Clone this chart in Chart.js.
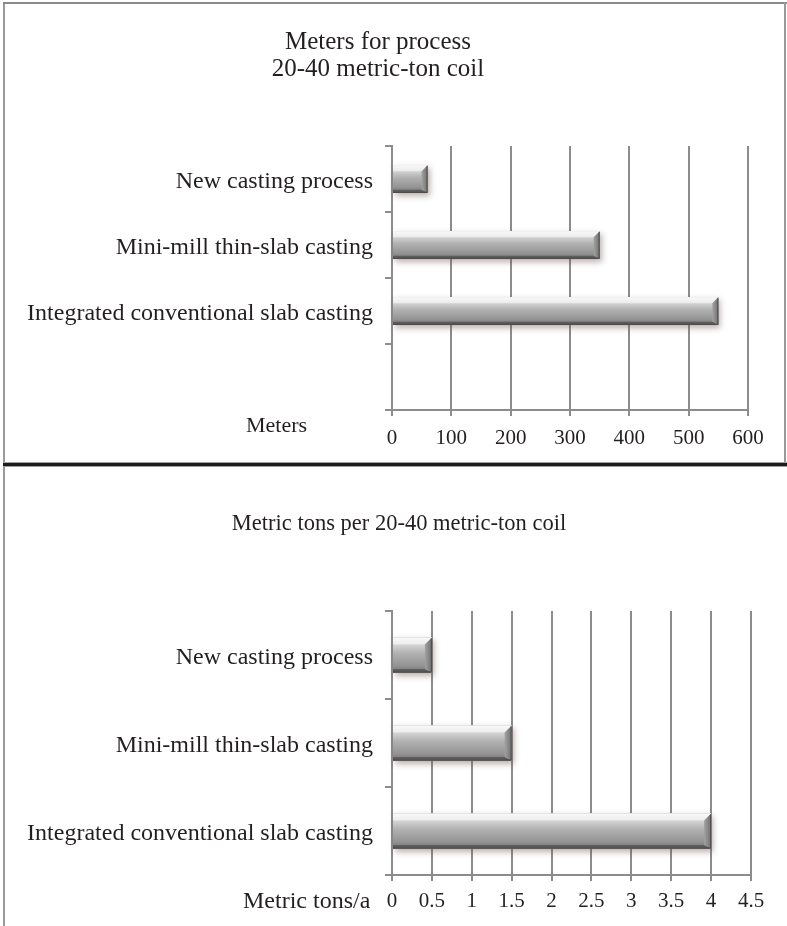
<!DOCTYPE html>
<html>
<head>
<meta charset="utf-8">
<title>Casting process comparison</title>
<script src="https://cdn.jsdelivr.net/npm/chart.js@4/dist/chart.umd.min.js"></script>
<style>
  html, body { margin: 0; padding: 0; background: #fff; }
  #page { position: relative; width: 787px; height: 926px; overflow: hidden; background: #fff; }
  canvas { position: absolute; left: 0; }
  #meters { top: 0; }
  #tons { top: 467px; }
  .rule { position: absolute; }
  #frameLeft { left: 3px; top: 2px; width: 2px; height: 924px; background: #9a9a9a; }
  #frameTop { left: 3px; top: 2px; width: 784px; height: 2px; background: #8a8a8a; }
  #frameRight { left: 784px; top: 2px; width: 2px; height: 461px; background: #9a9a9a; }
  #divider { left: 3px; top: 462px; width: 784px; height: 5px;
             background: linear-gradient(#a0a0a0 0 1px, #1c1c1c 1px 4px, #a0a0a0 4px 5px); }
</style>
</head>
<body>
<div id="page">
  <canvas id="meters" width="787" height="462"></canvas>
  <canvas id="tons" width="787" height="459"></canvas>
  <div class="rule" id="frameLeft"></div>
  <div class="rule" id="frameTop"></div>
  <div class="rule" id="frameRight"></div>
  <div class="rule" id="divider"></div>
</div>
<script>
// Length of plant needed per process (meters); last slot is left empty on purpose
const meterCategories = ['New casting process', 'Mini-mill thin-slab casting', 'Integrated conventional slab casting', ''];
const meterValues = [60, 350, 550, null];
const meterTitle = ['Meters for process', '20-40 metric-ton coil'];
const meterAxisName = 'Meters';
const meterMax = 600;
const meterStep = 100;

// Tonnage per coil for each process
const tonCategories = ['New casting process', 'Mini-mill thin-slab casting', 'Integrated conventional slab casting'];
const tonValues = [0.5, 1.5, 4];
const tonTitle = ['Metric tons per 20-40 metric-ton coil'];
const tonAxisName = 'Metric tons/a';
const tonMax = 4.5;
const tonStep = 0.5;

const FONT = "'Liberation Serif', 'Times New Roman', serif";
const INK = '#231f20';
const RULE = '#8c8c8c';

function poly(ctx, pts, fill) {
  ctx.beginPath();
  ctx.moveTo(pts[0][0], pts[0][1]);
  for (let i = 1; i < pts.length; i++) ctx.lineTo(pts[i][0], pts[i][1]);
  ctx.closePath();
  ctx.fillStyle = fill;
  ctx.fill();
}

function barBox(bar) {
  const p = bar.getProps(['x', 'y', 'base', 'height'], true);
  return {
    l: Math.min(p.base, p.x), r: Math.max(p.base, p.x),
    t: p.y - p.height / 2, b: p.y + p.height / 2
  };
}

// Soft drop shadow under each bar and a bevelled, shaded face on top of it
const bevelBars = {
  id: 'bevelBars',
  beforeDatasetsDraw(chart) {
    const ctx = chart.ctx;
    const values = chart.data.datasets[0].data;
    chart.getDatasetMeta(0).data.forEach((bar, i) => {
      if (values[i] == null) return;
      const r = barBox(bar);
      ctx.save();
      ctx.shadowColor = 'rgba(110,80,80,0.45)';
      ctx.shadowBlur = 6;
      ctx.shadowOffsetX = 2;
      ctx.shadowOffsetY = 3;
      ctx.fillStyle = '#9a9a9a';
      ctx.fillRect(r.l, r.t, r.r - r.l, r.b - r.t);
      ctx.restore();
    });
  },
  afterDatasetsDraw(chart) {
    const ctx = chart.ctx;
    const values = chart.data.datasets[0].data;
    chart.getDatasetMeta(0).data.forEach((bar, i) => {
      if (values[i] == null) return;
      const { l, r, t, b } = barBox(bar);
      const h = b - t;
      const bv = Math.max(4, Math.round(h * 0.2));
      ctx.save();
      const g = ctx.createLinearGradient(0, t, 0, b);
      g.addColorStop(0, 'rgba(250,250,250,0.93)');
      g.addColorStop(0.14, 'rgba(226,226,226,0.93)');
      g.addColorStop(0.45, 'rgba(178,178,178,0.93)');
      g.addColorStop(0.8, 'rgba(146,146,146,0.95)');
      g.addColorStop(1, 'rgba(112,112,112,0.97)');
      ctx.fillStyle = g;
      ctx.fillRect(l, t, r - l, h);
      // top face
      poly(ctx, [[l, t], [r, t], [r - bv, t + bv], [l, t + bv]], 'rgba(255,255,255,0.55)');
      // bottom face
      poly(ctx, [[l, b], [r, b], [r - bv, b - bv * 0.5], [l, b - bv * 0.5]], 'rgba(70,70,70,0.6)');
      // right face
      const gr = ctx.createLinearGradient(r - bv, 0, r, 0);
      gr.addColorStop(0, '#a2a2a2');
      gr.addColorStop(1, '#707070');
      poly(ctx, [[r - bv, t + bv], [r, t], [r, b], [r - bv, b - bv * 0.5]], gr);
      ctx.strokeStyle = 'rgba(70,70,70,0.9)';
      ctx.lineWidth = 1;
      ctx.beginPath();
      ctx.moveTo(r - 0.5, t + 1);
      ctx.lineTo(r - 0.5, b - 0.5);
      ctx.lineTo(l, b - 0.5);
      ctx.stroke();
      ctx.restore();
    });
  }
};

// Title lines and the axis name written to the left of the value ticks
const panelText = {
  id: 'panelText',
  afterDraw(chart, args, o) {
    const ctx = chart.ctx;
    ctx.save();
    ctx.fillStyle = INK;
    ctx.textBaseline = 'alphabetic';
    ctx.textAlign = 'center';
    ctx.font = o.titleSize + 'px ' + FONT;
    o.title.forEach((line, k) => ctx.fillText(line, o.titleX, o.titleY + k * o.titleGap));
    ctx.textAlign = 'left';
    ctx.font = o.nameSize + 'px ' + FONT;
    ctx.fillText(o.name, o.nameX, o.nameY);
    ctx.restore();
  }
};

function buildChart(id, cats, vals, cfg) {
  return new Chart(document.getElementById(id), {
    type: 'bar',
    data: {
      labels: cats,
      datasets: [{
        data: vals,
        backgroundColor: '#a8a8a8',
        borderWidth: 0,
        categoryPercentage: 1,
        barPercentage: cfg.barPct
      }]
    },
    options: {
      indexAxis: 'y',
      responsive: false,
      animation: false,
      events: [],
      layout: { padding: cfg.padding },
      plugins: {
        legend: { display: false },
        tooltip: { enabled: false },
        title: { display: false },
        panelText: cfg.text
      },
      scales: {
        x: {
          type: 'linear',
          min: 0,
          max: cfg.max,
          ticks: {
            stepSize: cfg.step,
            color: INK,
            font: { family: FONT, size: 21 },
            padding: cfg.tickPad,
            callback: v => String(v)
          },
          grid: { color: RULE, lineWidth: 2, tickLength: 6 },
          border: { color: RULE, width: 2 },
          afterFit: s => { s.height = cfg.xHeight; }
        },
        y: {
          ticks: { color: INK, font: { family: FONT, size: 24 }, padding: 12, labelOffset: 3 },
          grid: { drawOnChartArea: false, color: RULE, lineWidth: 2, tickLength: 7, offset: true },
          border: { color: RULE, width: 2 },
          afterFit: s => { s.width = 392; }
        }
      }
    },
    plugins: [bevelBars, panelText]
  });
}

buildChart('meters', meterCategories, meterValues, {
  max: meterMax, step: meterStep, barPct: 0.42,
  padding: { top: 146, right: 39, bottom: 0, left: 0 },
  xHeight: 52, tickPad: 10,
  text: { title: meterTitle, titleX: 378, titleY: 49, titleGap: 27, titleSize: 25,
          name: meterAxisName, nameX: 246, nameY: 432, nameSize: 22 }
});

buildChart('tons', tonCategories, tonValues, {
  max: tonMax, step: tonStep, barPct: 0.40,
  padding: { top: 144, right: 36, bottom: 0, left: 0 },
  xHeight: 51, tickPad: 8,
  text: { title: tonTitle, titleX: 399, titleY: 63, titleGap: 30, titleSize: 22.5,
          name: tonAxisName, nameX: 243, nameY: 441, nameSize: 24 }
});
</script>
</body>
</html>
